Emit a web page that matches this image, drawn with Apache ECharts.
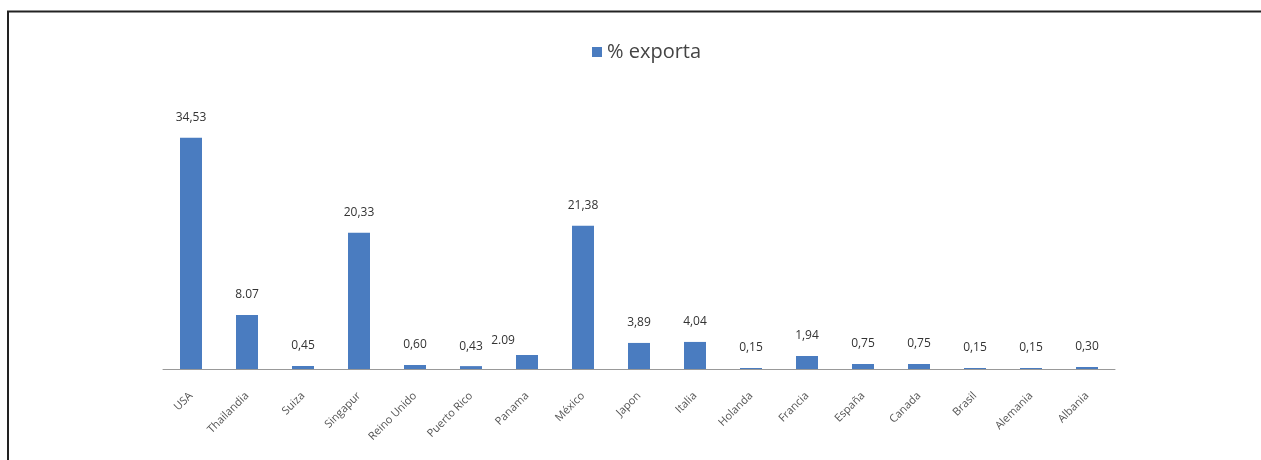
<!DOCTYPE html>
<html>
<head>
<meta charset="utf-8">
<title>% exporta</title>
<script src="https://cdn.jsdelivr.net/npm/echarts@6/dist/echarts.min.js"></script>
<style>
  html, body { margin: 0; padding: 0; background: #fff; }
  #chart { width: 1261px; height: 460px; }
</style>
</head>
<body>
<div id="chart"></div>
<script>
// Export share by destination country (%)
const countries = ['USA', 'Thailandia', 'Suiza', 'Singapur', 'Reino Unido', 'Puerto Rico', 'Panama',
  'México', 'Japon', 'Italia', 'Holanda', 'Francia', 'España', 'Canada', 'Brasil', 'Alemania', 'Albania'];
const exportShare = [34.53, 8.07, 0.45, 20.33, 0.60, 0.43, 2.09, 21.38, 3.89, 4.04, 0.15, 1.94, 0.75, 0.75, 0.15, 0.15, 0.30];
// Printed value labels (two of them use a point as decimal separator)
const valueLabels = ['34,53', '8.07', '0,45', '20,33', '0,60', '0,43', '2.09', '21,38', '3,89', '4,04',
  '0,15', '1,94', '0,75', '0,75', '0,15', '0,15', '0,30'];
const seriesName = '% exporta';

const chart = echarts.init(document.getElementById('chart'));

const barData = exportShare.map((v, i) => {
  const item = { value: v };
  if (countries[i] === 'Panama') {
    item.label = { offset: [-24, 6] };
  }
  return item;
});

chart.setOption({
  animation: false,
  backgroundColor: '#ffffff',
  graphic: [
    { type: 'line', shape: { x1: 7, y1: 11.5, x2: 1261, y2: 11.5 }, style: { stroke: '#222', lineWidth: 2 } },
    { type: 'line', shape: { x1: 8, y1: 11, x2: 8, y2: 460 }, style: { stroke: '#222', lineWidth: 2 } }
  ],
  legend: {
    top: 37,
    left: 587,
    itemWidth: 10,
    itemHeight: 10,
    itemGap: 6,
    icon: 'rect',
    textStyle: { fontFamily: 'Open Sans', fontSize: 20, color: '#444' },
    data: [seriesName]
  },
  grid: { left: 163, right: 146, top: 101, bottom: 91, containLabel: false },
  xAxis: {
    type: 'category',
    data: countries,
    axisLine: { lineStyle: { color: '#999', width: 1 } },
    axisTick: { show: false },
    axisLabel: {
      interval: 0,
      rotate: 45,
      margin: 25,
      fontFamily: 'Open Sans',
      fontSize: 11,
      color: '#555'
    }
  },
  yAxis: {
    type: 'value',
    min: 0,
    max: 40,
    show: false,
    splitLine: { show: false }
  },
  series: [{
    name: seriesName,
    type: 'bar',
    data: barData,
    barWidth: 22,
    itemStyle: { color: '#4a7cc0' },
    label: {
      show: true,
      position: 'top',
      distance: 14,
      fontFamily: 'Open Sans',
      fontSize: 12,
      color: '#333',
      formatter: p => valueLabels[p.dataIndex]
    }
  }]
});
</script>
</body>
</html>
